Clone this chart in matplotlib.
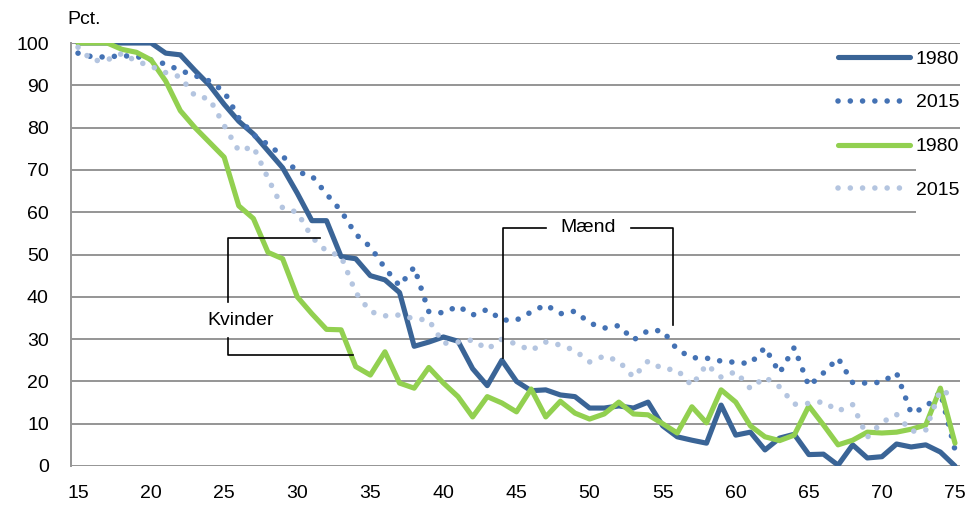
import matplotlib.pyplot as plt
from matplotlib.patches import Rectangle

plt.rcParams['font.family'] = ['Liberation Sans', 'DejaVu Sans']

# --- Data (andel i pct. efter alder) ---
ages = list(range(15, 76))

maend_1980 = [100, 100, 100, 100, 100, 100, 97.6, 97.2, 93.5, 90, 85.5, 81.5, 78.5, 74.5, 70.5,
              64.5, 58, 58, 49.5, 49, 45, 44, 41, 28.3, 29.3, 30.5, 29.5, 23, 19, 25,
              20, 17.8, 18, 16.8, 16.4, 13.7, 13.7, 14.2, 13.7, 15.1, 9.5, 6.9, 6.1, 5.4, 14.4,
              7.3, 8, 3.8, 6.6, 7.5, 2.7, 2.8, 0.2, 5, 1.9, 2.2, 5.2, 4.5, 5, 3.3, 0]

maend_2015 = [97.6, 96.7, 96.7, 97, 96.8, 96, 95, 93.5, 92.3, 91, 88.5, 82.3, 78.3, 76, 73.3,
              69.5, 68.6, 64.3, 60.3, 54.8, 51.8, 46.8, 42.6, 47, 36.5, 36.2, 37.8, 35.7, 37, 34.5,
              34.5, 36.4, 38.1, 36, 36.6, 33.8, 32.6, 33.2, 29.8, 32, 32, 27.5, 25.6, 25.5, 24.8,
              24.5, 24.2, 28, 22, 28, 18.9, 22, 25.5, 19.7, 19.6, 19.8, 22, 12.5, 13.9, 17.5, 3.8]

kvinder_1980 = [100, 100, 100, 98.5, 97.8, 96, 91, 84, 80, 76.5, 73, 61.5, 58.5, 50.5, 49,
                40, 36, 32.3, 32.2, 23.5, 21.5, 27, 19.6, 18.4, 23.3, 19.6, 16.4, 11.6, 16.4, 14.9,
                12.8, 18.2, 11.6, 15.3, 12.5, 11.1, 12.3, 15.1, 12.3, 12.1, 10, 7.8, 14, 10.2, 18,
                15.1, 9.5, 6.9, 6, 7.3, 14.2, 9.7, 5, 6.1, 8, 7.8, 8, 8.7, 9.7, 18.4, 5.4]

kvinder_2015 = [99, 95.8, 96, 97.5, 95.7, 94.5, 93, 92, 87.5, 86.8, 80.5, 74.5, 75.5, 68, 61,
                60, 54.1, 50.8, 49.6, 41, 36.5, 35.5, 35.7, 34.8, 34.5, 29, 29.3, 29.8, 27.6, 30,
                28.8, 27.3, 29.3, 28.6, 27.3, 24.6, 26, 24.8, 21, 24.8, 23, 22.7, 19, 24, 21,
                22.3, 18.3, 21, 18.7, 14.6, 14.8, 15.2, 13, 14.5, 6.8, 10.3, 12.2, 8.2, 8.5, 18, 16.3]

legend_labels = ["1980", "2015", "1980", "2015"]
x_ticks = list(range(15, 80, 5))
y_ticks = list(range(0, 110, 10))

# --- Figure ---
fig = plt.figure(figsize=(9.78, 5.09), dpi=100)
ax = fig.add_axes([71 / 978, 43 / 509, 889 / 978, 423 / 509])

dots = (0, (0.01, 2.2))
ax.plot(ages, maend_1980, color="#3A6496", lw=3.7, solid_capstyle="round", solid_joinstyle="round",
        label=legend_labels[0])
ax.plot(ages, maend_2015, color="#4472B4", lw=4.0, linestyle=dots, dash_capstyle="round",
        label=legend_labels[1])
ax.plot(ages, kvinder_1980, color="#92D050", lw=3.7, solid_capstyle="round", solid_joinstyle="round",
        label=legend_labels[2])
ax.plot(ages, kvinder_2015, color="#B4C5E0", lw=4.0, linestyle=dots, dash_capstyle="round",
        label=legend_labels[3])

ax.set_xlim(15 - 7 / 14.62, 75 + 5 / 14.62)
ax.set_ylim(0, 100)
ax.set_xticks(x_ticks)
ax.set_yticks(y_ticks)
ax.tick_params(length=0, labelsize=14)
ax.tick_params(axis="x", pad=14)
ax.tick_params(axis="y", pad=16)
ax.grid(axis="y", color="#959595", lw=1.4)
ax.set_axisbelow(True)
for side in ["top", "right", "bottom"]:
    ax.spines[side].set_visible(False)
ax.spines["left"].set_color("#959595")
ax.spines["left"].set_linewidth(1.4)

# white patch behind the lower legend rows (grid is cut there in the original)
ax.add_patch(Rectangle((916 / 978, (509 - 225) / 509), 50 / 978, 85 / 509, transform=fig.transFigure,
                       facecolor="white", edgecolor="none", zorder=1.5))

fig.legend(loc="upper left", bbox_to_anchor=(838 / 978, (509 - 50) / 509), frameon=False,
           fontsize=14, handlelength=3.7, handletextpad=0.3, labelspacing=1.35,
           borderpad=0, borderaxespad=0)

fig.text(67 / 978, (509 - 19) / 509, "Pct.", fontsize=14, ha="left", va="center")

# --- Annotations ---
k = "black"
ax.plot([31.55, 25.26, 25.26], [53.9, 53.9, 38.8], color=k, lw=1.2)
ax.plot([25.26, 25.26, 33.8], [30.3, 26.2, 26.2], color=k, lw=1.2)
ax.text(26.1, 34.5, "Kvinder", fontsize=14, ha="center", va="center")

ax.plot([44.07, 44.07, 47.0], [25.5, 56.3, 56.3], color=k, lw=1.2)
ax.plot([52.8, 55.7, 55.7], [56.3, 56.3, 33.3], color=k, lw=1.2)
ax.text(49.9, 56.3, "Mænd", fontsize=14, ha="center", va="center")

fig.savefig("out.png", dpi=100)
